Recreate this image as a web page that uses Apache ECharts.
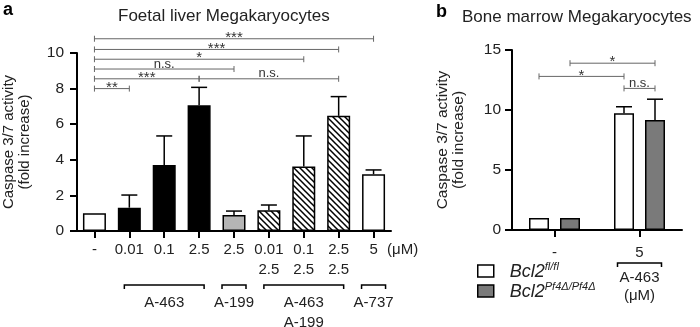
<!DOCTYPE html>
<html>
<head>
<meta charset="utf-8">
<script src="https://cdn.jsdelivr.net/npm/echarts@6/dist/echarts.min.js"></script>
<style>
  html, body { margin: 0; padding: 0; background: #fff; }
  #chart { width: 700px; height: 327px; }
</style>
</head>
<body>
<div id="chart"></div>
<script>
// panel a: foetal liver megakaryocytes
const doseTopA = ['-', '0.01', '0.1', '2.5', '2.5', '0.01', '0.1', '2.5', '5'];
const doseBottomA = ['', '', '', '', '', '2.5', '2.5', '2.5', ''];
const treatmentA = ['none', 'A-463', 'A-463', 'A-463', 'A-199', 'combo', 'combo', 'combo', 'A-737'];
const meanA = [1.0, 1.31, 3.71, 7.07, 0.9, 1.17, 3.62, 6.47, 3.19];
const errA = [0, 0.71, 1.63, 1.0, 0.22, 0.29, 1.72, 1.08, 0.24];
const groupNamesA = ['A-463', 'A-199', 'A-463\nA-199', 'A-737'];
const groupSpansA = [[1, 3], [4, 4], [5, 7], [8, 8]];
const sigPairsA = [[0, 8], [0, 7], [0, 6], [0, 4], [0, 3], [3, 7], [0, 1]];
const sigLevelsA = [10.8, 10.2, 9.65, 9.1, 8.55, 8.55, 8.0];
const sigLabelsA = ['***', '***', '*', 'n.s.', '***', 'n.s.', '**'];

// panel b: bone marrow megakaryocytes
const doseB = ['-', '5'];
const gene = 'Bcl2';
const allelesB = ['fl/fl', 'Pf4Δ/Pf4Δ'];
const meanB = [[1.0, 9.72], [1.0, 9.17]];
const errB = [[0, 0.55], [0, 1.73]];
const groupNamesB = ['A-463\n(μM)'];
const groupSpansB = [[1, 1]];
// pairs as [category, genotype]
const sigPairsB = [[[0, 1], [1, 1]], [[0, 0], [1, 0]], [[1, 0], [1, 1]]];
const sigLevelsB = [13.9, 12.8, 11.8];
const sigLabelsB = ['*', '*', 'n.s.'];

const FONT = 'Liberation Sans, Arial, sans-serif';
const TXT = '#222';

function hatch() {
  const c = document.createElement('canvas');
  c.width = 6; c.height = 6;
  const g = c.getContext('2d');
  g.fillStyle = '#fff';
  g.fillRect(0, 0, 6, 6);
  g.strokeStyle = '#000';
  g.lineWidth = 1.5;
  g.beginPath();
  g.moveTo(-1, -1); g.lineTo(7, 7);
  g.moveTo(-1, 5); g.lineTo(1, 7);
  g.moveTo(5, -1); g.lineTo(7, 1);
  g.stroke();
  return c;
}

const fills = {
  'none': '#fff',
  'A-463': '#000',
  'A-199': '#b5b5b5',
  'combo': { image: hatch(), repeat: 'repeat' },
  'A-737': '#fff'
};
const genoColors = ['#fff', '#7a7a7a'];

const barWB = 20, gapB = 11;
const offB = (barWB + gapB) / 2;

const chart = echarts.init(document.getElementById('chart'));

function bracket(x1, x2, y, label) {
  const kids = [
    { type: 'line', shape: { x1: x1, y1: y, x2: x2, y2: y }, style: { stroke: '#666', lineWidth: 1 } },
    { type: 'line', shape: { x1: x1, y1: y - 3, x2: x1, y2: y + 3 }, style: { stroke: '#666', lineWidth: 1 } },
    { type: 'line', shape: { x1: x2, y1: y - 3, x2: x2, y2: y + 3 }, style: { stroke: '#666', lineWidth: 1 } }
  ];
  const star = label.charAt(0) === '*';
  kids.push({
    type: 'text',
    x: (x1 + x2) / 2,
    y: star ? y - 1 : y - 5,
    style: { text: label, fill: '#333', fontSize: star ? 15 : 13, fontFamily: FONT, align: 'center', verticalAlign: 'middle' }
  });
  return kids;
}

function groupMark(api, first, last, pad, drop, textDy, label, lh) {
  const c1 = api.coord([first, 0]);
  const c2 = api.coord([last, 0]);
  const x1 = c1[0] - pad, x2 = c2[0] + pad, y = c1[1] + drop;
  return {
    type: 'group',
    children: [
      { type: 'polyline', shape: { points: [[x1, y + 4], [x1, y], [x2, y], [x2, y + 4]] }, style: { stroke: '#000', lineWidth: 1.5, fill: null } },
      { type: 'text', x: (x1 + x2) / 2, y: y + textDy, style: { text: label, fill: TXT, fontSize: 15, fontFamily: FONT, align: 'center', verticalAlign: 'top', lineHeight: lh } }
    ]
  };
}

const axisLine = { show: true, lineStyle: { color: '#000', width: 2 } };
const axisTick = { show: true, length: 7, lineStyle: { color: '#000', width: 2 } };

const option = {
  animation: false,
  backgroundColor: '#fff',
  title: [
    { text: 'a', left: 3, top: 1, padding: 0, textStyle: { fontSize: 18, fontWeight: 'bold', color: '#000', fontFamily: FONT } },
    { text: 'Foetal liver Megakaryocytes', left: 118, top: 8, padding: 0, textStyle: { fontSize: 17, fontWeight: 'normal', color: TXT, fontFamily: FONT } },
    { text: 'b', left: 436, top: 3, padding: 0, textStyle: { fontSize: 18, fontWeight: 'bold', color: '#000', fontFamily: FONT } },
    { text: 'Bone marrow Megakaryocytes', left: 462, top: 9, padding: 0, textStyle: { fontSize: 17, fontWeight: 'normal', color: TXT, fontFamily: FONT } }
  ],
  legend: {
    data: allelesB,
    orient: 'vertical',
    left: 477,
    top: 261,
    padding: 0,
    itemWidth: 16,
    itemHeight: 12,
    itemGap: 0,
    icon: 'rect',
    itemStyle: { borderColor: '#000', borderWidth: 1.5 },
    formatter: name => '{g|' + gene + '}{s|' + name + '}',
    textStyle: {
      color: TXT,
      rich: {
        g: { fontSize: 18, fontStyle: 'italic', fontFamily: FONT, color: TXT, lineHeight: 20, verticalAlign: 'bottom', padding: [0, 0, 0, 11] },
        s: { fontSize: 11, fontStyle: 'italic', fontFamily: FONT, color: TXT, lineHeight: 10, verticalAlign: 'top' }
      }
    }
  },
  grid: [
    { left: 76, top: 53, width: 315, height: 178 },
    { left: 512, top: 50, width: 170, height: 180 }
  ],
  xAxis: [
    {
      type: 'category', gridIndex: 0, data: doseTopA.map((d, i) => i),
      axisLine: axisLine, axisTick: Object.assign({ alignWithLabel: true }, axisTick),
      axisLabel: {
        margin: 9, interval: 0, color: TXT, fontFamily: FONT, fontSize: 15, lineHeight: 20,
        formatter: (v, i) => doseBottomA[i] ? doseTopA[i] + '\n' + doseBottomA[i] : doseTopA[i]
      }
    },
    {
      type: 'category', gridIndex: 1, data: doseB,
      axisLine: axisLine, axisTick: Object.assign({ alignWithLabel: true }, axisTick),
      axisLabel: { margin: 15, color: TXT, fontFamily: FONT, fontSize: 15 }
    }
  ],
  yAxis: [
    {
      type: 'value', gridIndex: 0, min: 0, max: 10, interval: 2,
      splitLine: { show: false }, axisLine: axisLine, axisTick: axisTick,
      axisLabel: { margin: 13, color: TXT, fontFamily: FONT, fontSize: 15.5 },
      name: 'Caspase 3/7 activity\n(fold increase)', nameLocation: 'middle', nameGap: 44,
      nameTextStyle: { color: TXT, fontFamily: FONT, fontSize: 15, lineHeight: 16 }
    },
    {
      type: 'value', gridIndex: 1, min: 0, max: 15, interval: 5,
      splitLine: { show: false }, axisLine: axisLine, axisTick: axisTick,
      axisLabel: { margin: 11, color: TXT, fontFamily: FONT, fontSize: 15.5 },
      name: 'Caspase 3/7 activity\n(fold increase)', nameLocation: 'middle', nameGap: 45,
      nameTextStyle: { color: TXT, fontFamily: FONT, fontSize: 15.5, lineHeight: 16 }
    }
  ],
  series: [
    {
      type: 'bar', xAxisIndex: 0, yAxisIndex: 0, barWidth: 23,
      data: meanA.map((v, i) => ({
        value: v,
        itemStyle: { color: fills[treatmentA[i]], borderColor: '#000', borderWidth: 1.5 }
      }))
    },
    {
      type: 'custom', xAxisIndex: 0, yAxisIndex: 0, z: 3,
      data: meanA.map((v, i) => [i, v, errA[i]]),
      renderItem: (params, api) => {
        const e = api.value(2);
        if (!e) return null;
        const p0 = api.coord([api.value(0), api.value(1)]);
        const p1 = api.coord([api.value(0), api.value(1) + e]);
        return {
          type: 'group', children: [
            { type: 'line', shape: { x1: p0[0], y1: p0[1], x2: p1[0], y2: p1[1] }, style: { stroke: '#000', lineWidth: 1.5 } },
            { type: 'line', shape: { x1: p1[0] - 8, y1: p1[1], x2: p1[0] + 8, y2: p1[1] }, style: { stroke: '#000', lineWidth: 1.5 } }
          ]
        };
      }
    },
    {
      type: 'custom', xAxisIndex: 0, yAxisIndex: 0, clip: false,
      data: sigPairsA.map((p, k) => [p[0], p[1], sigLevelsA[k]]),
      renderItem: (params, api) => {
        const k = params.dataIndex;
        const a = api.coord([api.value(0), api.value(2)]);
        const b = api.coord([api.value(1), api.value(2)]);
        return { type: 'group', children: bracket(a[0], b[0], a[1], sigLabelsA[k]) };
      }
    },
    {
      type: 'custom', xAxisIndex: 0, yAxisIndex: 0, clip: false,
      data: groupSpansA.map(s => [s[0], 0]),
      renderItem: (params, api) => {
        const k = params.dataIndex;
        const s = groupSpansA[k];
        return groupMark(api, s[0], s[1], s[0] === s[1] ? 12 : 5, 54, 8, groupNamesA[k], 20);
      }
    },
    {
      name: allelesB[0], type: 'bar', xAxisIndex: 1, yAxisIndex: 1, barWidth: barWB, barGap: (gapB / barWB * 100) + '%',
      itemStyle: { color: genoColors[0], borderColor: '#000', borderWidth: 1.5 },
      data: meanB[0]
    },
    {
      name: allelesB[1], type: 'bar', xAxisIndex: 1, yAxisIndex: 1, barWidth: barWB,
      itemStyle: { color: genoColors[1], borderColor: '#000', borderWidth: 1.5 },
      data: meanB[1]
    },
    {
      type: 'custom', xAxisIndex: 1, yAxisIndex: 1, z: 3,
      data: [0, 1].flatMap(s => meanB[s].map((v, i) => [i, v, errB[s][i], s])),
      renderItem: (params, api) => {
        const e = api.value(2);
        if (!e) return null;
        const dx = api.value(3) ? offB : -offB;
        const p0 = api.coord([api.value(0), api.value(1)]);
        const p1 = api.coord([api.value(0), api.value(1) + e]);
        const x = p0[0] + dx;
        return {
          type: 'group', children: [
            { type: 'line', shape: { x1: x, y1: p0[1], x2: x, y2: p1[1] }, style: { stroke: '#000', lineWidth: 1.5 } },
            { type: 'line', shape: { x1: x - 8, y1: p1[1], x2: x + 8, y2: p1[1] }, style: { stroke: '#000', lineWidth: 1.5 } }
          ]
        };
      }
    },
    {
      type: 'custom', xAxisIndex: 1, yAxisIndex: 1, clip: false,
      data: sigPairsB.map((p, k) => [p[0][0], p[1][0], sigLevelsB[k]]),
      renderItem: (params, api) => {
        const k = params.dataIndex;
        const p = sigPairsB[k];
        const a = api.coord([p[0][0], sigLevelsB[k]]);
        const b = api.coord([p[1][0], sigLevelsB[k]]);
        const xa = a[0] + (p[0][1] ? offB : -offB);
        const xb = b[0] + (p[1][1] ? offB : -offB);
        return { type: 'group', children: bracket(xa, xb, a[1], sigLabelsB[k]) };
      }
    },
    {
      type: 'custom', xAxisIndex: 1, yAxisIndex: 1, clip: false,
      data: groupSpansB.map(s => [s[0], 0]),
      renderItem: (params, api) => {
        const k = params.dataIndex;
        const s = groupSpansB[k];
        return groupMark(api, s[0], s[1], 22, 33, 6, groupNamesB[k], 18);
      }
    }
  ],
  graphic: [
    { type: 'text', left: 387, top: 242, style: { text: '(μM)', fill: TXT, fontSize: 15, fontFamily: FONT } }
  ]
};

chart.setOption(option);
</script>
</body>
</html>
